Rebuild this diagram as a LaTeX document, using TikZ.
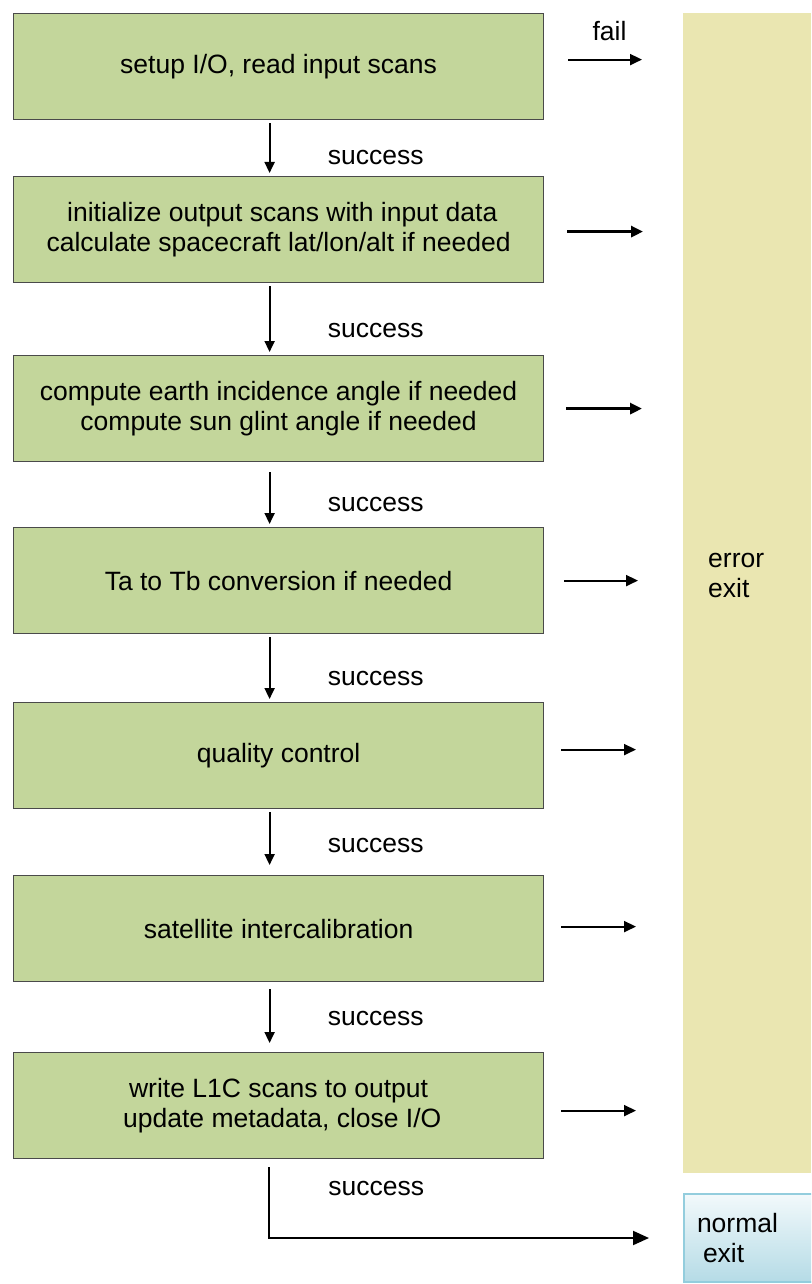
\documentclass[tikz,border=0pt]{standalone}
\usepackage{fontspec}
\setmainfont{Liberation Sans}
\usetikzlibrary{arrows.meta}
\definecolor{stageGreen}{HTML}{C3D69B}
\definecolor{stageLine}{HTML}{4A4A4A}
\definecolor{errTan}{HTML}{EAE6B1}
\definecolor{okTop}{HTML}{F2F9FB}
\definecolor{okBottom}{HTML}{B5DBE6}
\definecolor{okLine}{HTML}{93CDDD}
\newcommand{\chartFont}[0]{\fontsize{26.5}{30}\selectfont}

\begin{document}
\begin{tikzpicture}[x=1pt, y=-1pt, font=\chartFont]
  \tikzset{
    stage/.style={draw=stageLine, line width=1.2pt, fill=stageGreen, anchor=north west,
      minimum width=530pt, minimum height=106pt, align=center},
    errpanel/.style={fill=errTan, anchor=north west, minimum width=128pt, minimum height=1160pt},
    okexit/.style={draw=okLine, line width=2pt, top color=okTop, bottom color=okBottom, anchor=west,
      text width=112pt, minimum height=88pt, inner xsep=13pt, align=left},
    down/.style={-{Triangle[length=11pt,width=10pt]}, line width=2pt, shorten <=3pt, shorten >=3pt},
    failarrow/.style={-{Triangle[length=12pt,width=11pt]}, line width=2pt},
    succ/.style={pos=0.66, anchor=west, xshift=54pt}
  }
  \useasboundingbox (0,0) rectangle (811,1284);
  \clip (0,0) rectangle (811,1284);

  \node[stage] (s1) at (13,13) {setup I/O, read input scans};
  \node[stage] (s2) at (13,176) {\ initialize output scans with input data\\calculate spacecraft lat/lon/alt if needed};
  \node[stage] (s3) at (13,355) {compute earth incidence angle if needed\\compute sun glint angle if needed};
  \node[stage] (s4) at (13,527) {Ta to Tb conversion if needed};
  \node[stage] (s5) at (13,702) {quality control};
  \node[stage] (s6) at (13,875) {satellite intercalibration};
  \node[stage] (s7) at (13,1052) {write L1C scans to output\\\ update metadata, close I/O};

  \node[errpanel] (err) at (683,13) {};
  \node[anchor=west, align=left, inner sep=0pt] (errtxt) at (708,575) {error\\exit};
  \node[okexit] (ok) at (683,1238) {normal\\\hspace{6pt}exit};

  \draw[down] ([xshift=-9pt]s1.south) -- node[succ] {success} ([xshift=-9pt]s2.north);
  \draw[down] ([xshift=-9pt]s2.south) -- node[succ] {success} ([xshift=-9pt]s3.north);
  \draw[down, shorten <=10pt] ([xshift=-9pt]s3.south) -- node[succ] {success} ([xshift=-9pt]s4.north);
  \draw[down] ([xshift=-9pt]s4.south) -- node[succ] {success} ([xshift=-9pt]s5.north);
  \draw[down, shorten >=10pt] ([xshift=-9pt]s5.south) -- node[succ, pos=0.55] {success} ([xshift=-9pt]s6.north);
  \draw[down, shorten <=7pt, shorten >=9pt] ([xshift=-9pt]s6.south) -- node[succ, pos=0.52] {success} ([xshift=-9pt]s7.north);
  \draw[-{Triangle[length=16pt,width=14pt]}, line width=2pt, shorten >=34pt]
    ([xshift=-10pt, yshift=-8pt]s7.south) |- node[pos=0.63, anchor=base, yshift=43pt] {success} (ok.west);

  \coordinate (f1) at ([xshift=24pt, yshift=7pt]s1.east);
  \coordinate (f2) at ([xshift=23pt, yshift=-2pt]s2.east);
  \coordinate (f3) at ([xshift=22pt]s3.east);
  \coordinate (f4) at ([xshift=20pt]s4.east);
  \coordinate (f5) at ([xshift=17pt, yshift=6pt]s5.east);
  \coordinate (f6) at ([xshift=17pt, yshift=2pt]s6.east);
  \coordinate (f7) at ([xshift=17pt, yshift=-5pt]s7.east);
  \draw[failarrow, shorten >=41pt] (f1) -- node[pos=0.36, above=15pt] {fail} (err.west |- f1);
  \draw[failarrow, line width=3pt, shorten >=40pt] (f2) -- (err.west |- f2);
  \draw[failarrow, line width=3pt, shorten >=41pt] (f3) -- (err.west |- f3);
  \draw[failarrow, shorten >=45pt] (f4) -- (err.west |- f4);
  \draw[failarrow, shorten >=47pt] (f5) -- (err.west |- f5);
  \draw[failarrow, shorten >=47pt] (f6) -- (err.west |- f6);
  \draw[failarrow, shorten >=47pt] (f7) -- (err.west |- f7);
\end{tikzpicture}
\end{document}
